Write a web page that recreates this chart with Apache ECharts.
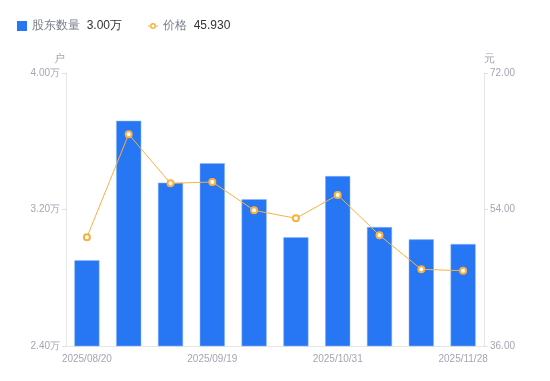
<!DOCTYPE html>
<html><head><meta charset="utf-8">
<script src="https://cdn.jsdelivr.net/npm/echarts@6/dist/echarts.min.js"></script>
<style>html,body{margin:0;padding:0;background:#fff}#c{width:550px;height:381px}</style>
</head><body><div id="c"></div>
<script>
var categories = ['2025/08/20','2025/08/31','2025/09/10','2025/09/19','2025/09/30','2025/10/20','2025/10/31','2025/11/10','2025/11/20','2025/11/28'];
var holders = [29020, 37200, 33570, 34710, 32600, 30370, 33960, 30970, 30250, 29980];
var prices = [50.33, 63.92, 57.45, 57.63, 53.89, 52.84, 55.91, 50.60, 46.11, 45.93];
var leftTicks = {min: 24000, max: 40000, interval: 8000};
var rightTicks = {min: 36, max: 72, interval: 18};

var chart = echarts.init(document.getElementById('c'));
var lastH = (holders[holders.length-1]/10000).toFixed(2) + '万';
var lastP = prices[prices.length-1].toFixed(3);
var axisLabelColor = '#a3a5b3';
var lineIcon = 'path://M0,4.5 H2.4 V5.5 H0 Z M7.6,4.5 H10 V5.5 H7.6 Z M5,2 A3,3 0 1,1 4.999,2 Z M5,3.5 A1.5,1.5 0 1,0 5.001,3.5 Z';
chart.setOption({
  animation: false,
  legend: {
    left: 12, top: 15,
    itemWidth: 10, itemHeight: 10, itemGap: 26, itemTextGap: 4,
    data: [
      {name: '股东数量', icon: 'rect', itemStyle: {color: '#2777f5', borderWidth: 0}},
      {name: '价格', icon: lineIcon, itemStyle: {color: '#f8b13f', borderWidth: 0}}
    ],
    formatter: function (n) {
      return '{n|' + n + '}  {v|' + (n === '股东数量' ? lastH : lastP) + '}';
    },
    textStyle: {
      rich: {
        n: {color: '#7a7d8c', fontSize: 12},
        v: {color: '#333', fontSize: 12}
      }
    }
  },
  grid: {left: 66, right: 66, top: 73, bottom: 35, containLabel: false},
  xAxis: {
    type: 'category', data: categories,
    axisLine: {lineStyle: {color: '#e6e6e6'}},
    axisTick: {show: false},
    axisLabel: {interval: 2, color: axisLabelColor, fontSize: 10, margin: 8}
  },
  yAxis: [{
    type: 'value', name: '户', min: leftTicks.min, max: leftTicks.max, interval: leftTicks.interval,
    nameTextStyle: {color: axisLabelColor, fontSize: 11, padding: [0, 14, 0, 0]},
    nameGap: 9,
    axisLine: {show: true, lineStyle: {color: '#e6e6e6'}},
    axisTick: {show: true, length: 4, lineStyle: {color: '#e0e0e0'}},
    splitLine: {show: false},
    axisLabel: {color: axisLabelColor, fontSize: 10, margin: 6, formatter: function (v) { return (v/10000).toFixed(2) + '万'; }}
  }, {
    type: 'value', name: '元', min: rightTicks.min, max: rightTicks.max, interval: rightTicks.interval,
    position: 'right',
    nameTextStyle: {color: axisLabelColor, fontSize: 11, padding: [0, 0, 0, 10]},
    nameGap: 9,
    axisLine: {show: true, lineStyle: {color: '#e6e6e6'}},
    axisTick: {show: true, length: 4, lineStyle: {color: '#e0e0e0'}},
    splitLine: {show: false},
    axisLabel: {color: axisLabelColor, fontSize: 10, margin: 6, formatter: function (v) { return v.toFixed(2); }}
  }],
  series: [{
    name: '股东数量', type: 'bar', data: holders, barWidth: '60%',
    itemStyle: {color: '#2777f5', borderColor: '#8fb6fa', borderWidth: 0.5}
  }, {
    name: '价格', type: 'line', yAxisIndex: 1, data: prices,
    symbol: 'emptyCircle', symbolSize: 6,
    lineStyle: {color: '#f8b13f', width: 1},
    itemStyle: {color: '#f8b13f', borderWidth: 2}
  }]
});
</script></body></html>
